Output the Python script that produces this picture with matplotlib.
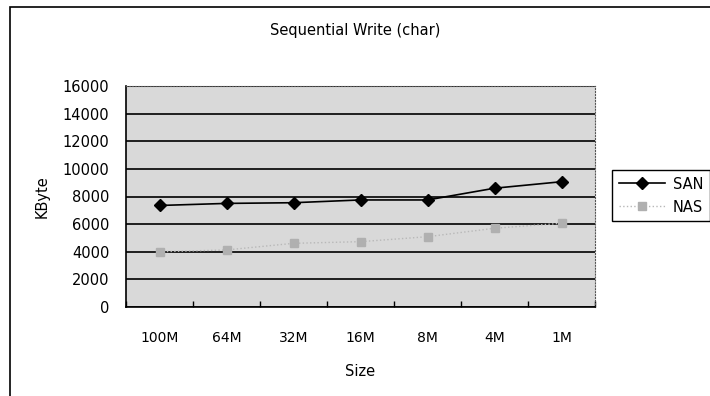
import matplotlib
matplotlib.use('Agg')
import matplotlib.pyplot as plt
from matplotlib.patches import Rectangle

sizes = ['100M', '64M', '32M', '16M', '8M', '4M', '1M']
san = [7350, 7500, 7550, 7750, 7750, 8600, 9070]
nas = [4000, 4130, 4610, 4730, 5090, 5700, 6060]
y_ticks = [0, 2000, 4000, 6000, 8000, 10000, 12000, 14000, 16000]

fig = plt.figure(figsize=(7.1, 3.96), dpi=100, facecolor='white')
ax = fig.add_axes([126/710, 1 - 307/396, 469/710, 221/396])
ax.set_facecolor('#d9d9d9')

x = range(len(sizes))
ax.plot(x, san, color='black', linewidth=1.2, marker='D', markersize=6.5, label='SAN')
ax.plot(x, nas, color='#b8b8b8', linewidth=1.0, linestyle=':', marker='s',
        markersize=6, markerfacecolor='#b0b0b0', markeredgecolor='#b0b0b0', label='NAS')

ax.set_xlim(-0.5, len(sizes) - 0.5)
ax.set_ylim(0, 16000)
ax.set_yticks(y_ticks)
ax.set_xticks(list(x))
ax.set_xticklabels(sizes)
ax.set_xticks([i + 0.5 for i in range(-1, len(sizes))], minor=True)
ax.tick_params(axis='x', which='major', length=0, pad=17, labelsize=10)
ax.tick_params(axis='x', which='minor', length=4, direction='in', width=1)
ax.tick_params(axis='y', length=0, pad=12, labelsize=10.5)
ax.grid(True, axis='y', color='black', linewidth=1.2)
ax.set_axisbelow(True)

for side in ['top', 'right']:
    ax.spines[side].set_linestyle(':')
    ax.spines[side].set_color('#555555')
ax.spines['left'].set_linewidth(1.2)
ax.spines['bottom'].set_linewidth(1.2)

ax.set_xlabel('Size', fontsize=10.5, labelpad=14)
ax.set_ylabel('KByte', fontsize=10.5, labelpad=9)
fig.text(355/710, 1 - 30/396, 'Sequential Write (char)', ha='center', va='center', fontsize=10.5)

fig.legend(loc='upper left', bbox_to_anchor=(612/710, 1 - 170/396), fontsize=10.5,
           frameon=True, fancybox=False, edgecolor='black', framealpha=1, borderaxespad=0,
           handlelength=3.2, borderpad=0.45, labelspacing=0.55, handletextpad=0.5)

fig.patches.append(Rectangle((10/710, -0.1), 1.2, 1 - 7/396 + 0.1, transform=fig.transFigure,
                             fill=False, edgecolor='black', linewidth=1.2))

fig.savefig('out.png', dpi=100)
